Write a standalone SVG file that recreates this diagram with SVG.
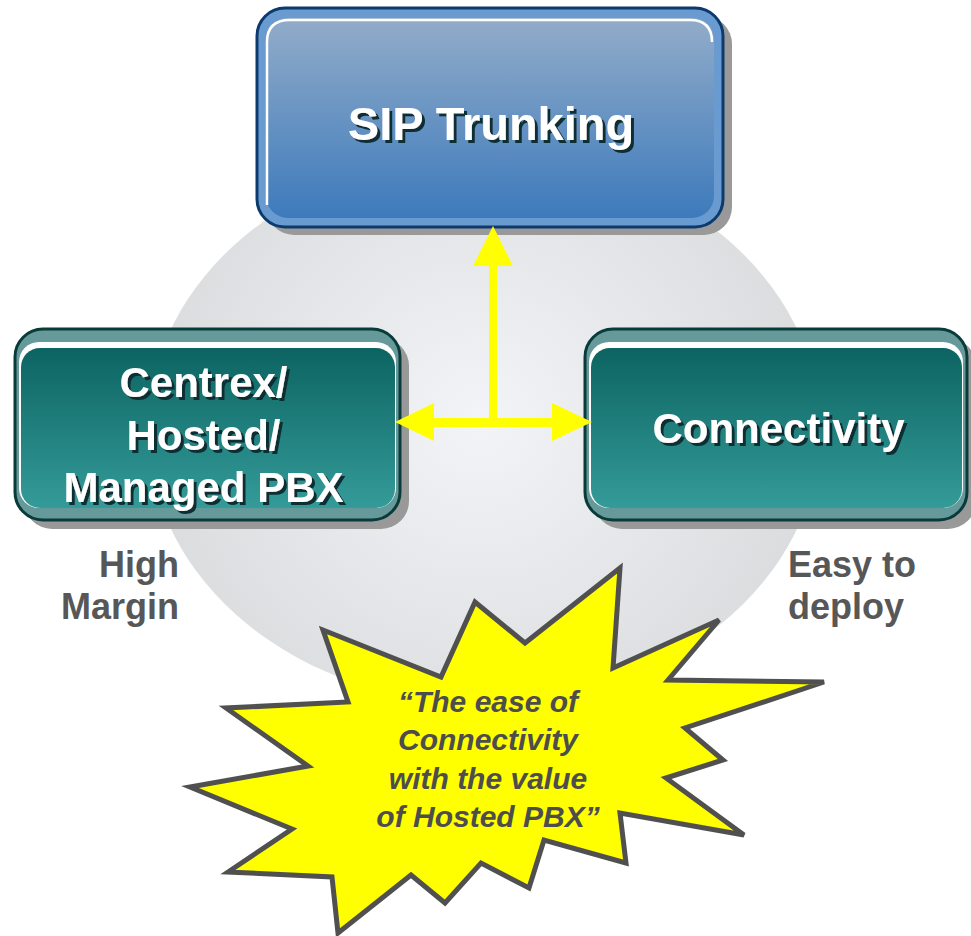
<svg xmlns="http://www.w3.org/2000/svg" width="971" height="936" viewBox="0 0 971 936">
<style>
.lbl{font-family:"Liberation Sans",Arial,sans-serif;font-weight:bold;text-anchor:middle;fill:#fff;filter:url(#ts)}
.side{font-family:"Liberation Sans",Arial,sans-serif;font-weight:bold;font-size:36px;fill:#575757}
.quote{font-family:"Liberation Sans",Arial,sans-serif;font-weight:bold;font-style:italic;font-size:30px;fill:#4d4d4d;text-anchor:middle}
.shadow{fill:#999}
.arrow{fill:#ffff00}
</style>
<defs>
<filter id="ts" x="-10%" y="-20%" width="120%" height="150%">
<feOffset in="SourceAlpha" dx="3" dy="3" result="o"/>
<feFlood flood-color="#0f2f33" result="c"/>
<feComposite in="c" in2="o" operator="in" result="s"/>
<feMerge><feMergeNode in="s"/><feMergeNode in="SourceGraphic"/></feMerge>
</filter>
<radialGradient id="gCircle" cx="480" cy="420" r="340" gradientUnits="userSpaceOnUse">
<stop offset="0" stop-color="#f2f4f7"/>
<stop offset="1" stop-color="#dbdcde"/>
</radialGradient>
<linearGradient id="gBlue" x1="0" y1="0" x2="0" y2="1">
<stop offset="0" stop-color="#92acc9"/>
<stop offset="1" stop-color="#3d7abc"/>
</linearGradient>
<linearGradient id="gTeal" x1="0" y1="0" x2="0" y2="1">
<stop offset="0" stop-color="#0c6461"/>
<stop offset="1" stop-color="#349b99"/>
</linearGradient>
</defs>
<rect width="971" height="936" fill="#fff"/>
<ellipse id="background-circle" cx="484" cy="429" rx="336" ry="275" fill="url(#gCircle)"/>

<g id="sip-trunking">
<rect class="shadow" x="266" y="16" width="466" height="219" rx="28"/>
<rect x="257" y="8" width="466" height="219" rx="28" fill="#6a9bd0" stroke="#0d3a6e" stroke-width="3"/>
<rect x="266" y="18" width="448" height="200" rx="22" fill="url(#gBlue)"/>
<path d="M267,205 L267,42 Q267,20 290,20 L690,20 Q712,20 712,42" fill="none" stroke="#fff" stroke-width="2.5"/>
<text class="lbl" x="491" y="140" font-size="47">SIP Trunking</text>
</g>

<g id="centrex">
<rect class="shadow" x="24" y="338" width="385" height="191" rx="28"/>
<rect x="15" y="329" width="385" height="191" rx="28" fill="#669999" stroke="#0a3b3b" stroke-width="3"/>
<rect x="19" y="342" width="377" height="166" rx="20" fill="#fff"/>
<rect x="21" y="348" width="374" height="160" rx="19" fill="url(#gTeal)"/>
<text class="lbl" font-size="42"><tspan x="203.5" y="397">Centrex/</tspan><tspan x="203.5" y="450">Hosted/</tspan><tspan x="203.5" y="502">Managed PBX</tspan></text>
</g>

<g id="connectivity">
<rect class="shadow" x="594" y="338" width="382" height="191" rx="28"/>
<rect x="585" y="329" width="382" height="191" rx="28" fill="#669999" stroke="#0a3b3b" stroke-width="3"/>
<rect x="589" y="342" width="374" height="166" rx="20" fill="#fff"/>
<rect x="591" y="348" width="371" height="160" rx="19" fill="url(#gTeal)"/>
<text class="lbl" x="778.5" y="443" font-size="42">Connectivity</text>
</g>

<g id="connectors">
<polygon class="arrow" points="493,226 513,266 497,266 497,419 489,419 489,266 473,266"/>
<polygon class="arrow" points="395,422 434,403 434,418 552,418 552,403 592,422 552,441 552,427 434,427 434,441"/>
</g>

<g id="high-margin">
<text class="side" text-anchor="end"><tspan x="179" y="577">High</tspan><tspan x="179" y="619">Margin</tspan></text>
</g>
<g id="easy-to-deploy">
<text class="side"><tspan x="788" y="577">Easy to</tspan><tspan x="788" y="619">deploy</tspan></text>
</g>

<g id="starburst">
<polygon points="620,568 613,668 719,620 668,680 824,682 685,728 723,760 666,778 744,835 620,813 626,863 544,840 529,888 481,863 445,903 411,875 338,933 332,877 228,872 292,829 190,787 308,766 226,708 348,702 323,630 441,677 475,602 525,643" fill="#ffff00" stroke="#505050" stroke-width="5" stroke-linejoin="miter"/>
<text class="quote"><tspan x="488" y="712">“The ease of</tspan><tspan x="488" y="750">Connectivity</tspan><tspan x="488" y="789">with the value</tspan><tspan x="488" y="827">of Hosted PBX”</tspan></text>
</g>
</svg>
